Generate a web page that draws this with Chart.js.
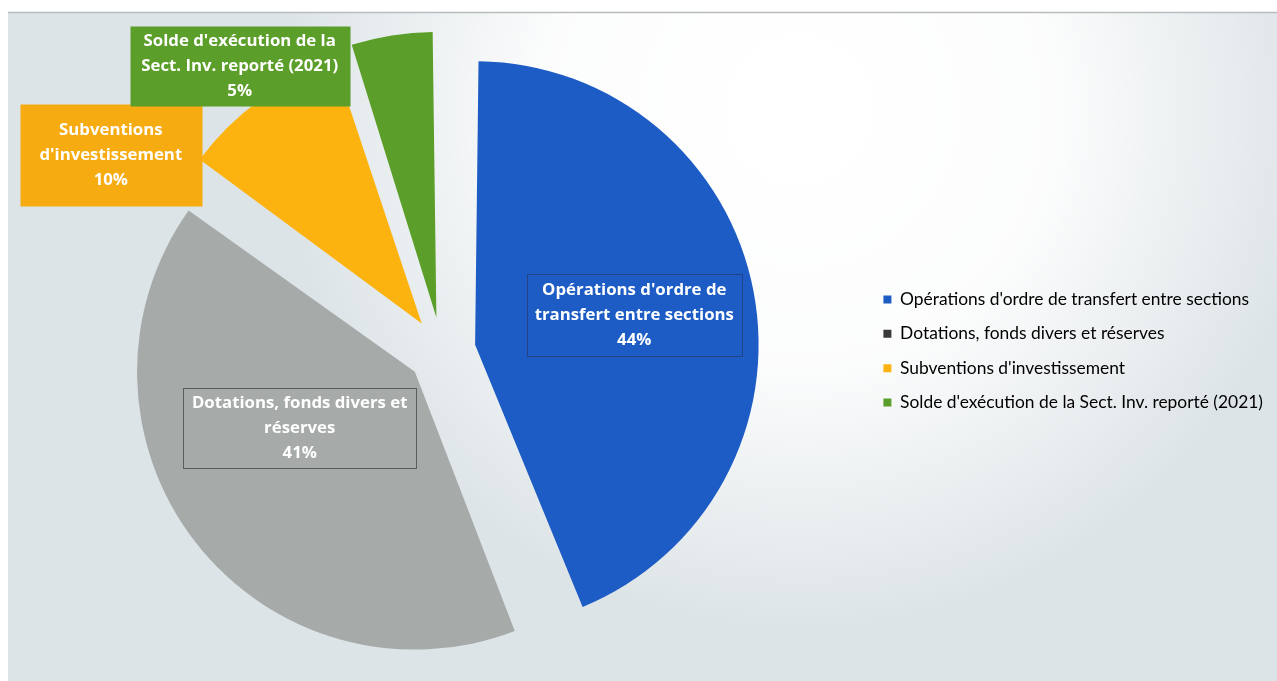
<!DOCTYPE html>
<html lang="fr">
<head>
<meta charset="utf-8">
<title>Recettes d'investissement</title>
<script src="https://cdn.jsdelivr.net/npm/chart.js@4.4.1/dist/chart.umd.min.js"></script>
<style>
  html, body { margin: 0; padding: 0; background: #ffffff; }
  #zone { width: 1277px; height: 681px; position: relative; }
</style>
</head>
<body>
<div id="zone"><canvas id="graphiqueInvest"></canvas></div>
<script>
// Données (en %)
const categories = [
  "Opérations d'ordre de transfert entre sections",
  "Dotations, fonds divers et réserves",
  "Subventions d'investissement",
  "Solde d'exécution de la Sect. Inv. reporté (2021)"
];
const valeurs = [44, 41, 10, 5];
const couleurs = ["#1c5cc4", "#a6aaa8", "#fdb30f", "#5b9e29"];
const couleursLegende = ["#1c5cc4", "#3a3a3a", "#fdb30f", "#5b9e29"];

// Boîtes d'étiquettes : position relative au centre (en fraction du rayon)
const boites = [
  { dx: 0.735, dy: -0.137, w: 215, h: 82, bord: "rgba(40,50,80,0.55)", fond: null },
  { dx: -0.542, dy: 0.294, w: 233, h: 80, bord: "rgba(60,60,60,0.7)", fond: null },
  { dx: -1.263, dy: -0.748, w: 182, h: 102, bord: null, fond: "#f6ab10" },
  { dx: -0.771, dy: -1.088, w: 220, h: 80, bord: null, fond: "#5b9e29" }
];

function decouperTexte(ctx, texte, largeurMax) {
  const mots = texte.split(" ");
  const lignes = [];
  let ligne = "";
  mots.forEach(m => {
    const essai = ligne ? ligne + " " + m : m;
    if (ctx.measureText(essai).width > largeurMax && ligne) {
      lignes.push(ligne);
      ligne = m;
    } else {
      ligne = essai;
    }
  });
  if (ligne) lignes.push(ligne);
  return lignes;
}

// Fond légèrement grisé comme le document scanné
const fondPlugin = {
  id: "fond",
  beforeDraw(chart) {
    const ctx = chart.ctx;
    ctx.save();
    ctx.fillStyle = "#ffffff";
    ctx.fillRect(0, 0, chart.width, chart.height);
    ctx.fillStyle = "#dde4e7";
    ctx.fillRect(8, 13, chart.width - 8, chart.height - 13);
    const g = ctx.createRadialGradient(800, 110, 40, 800, 110, 520);
    g.addColorStop(0, "rgba(255,255,255,1)");
    g.addColorStop(0.45, "rgba(255,255,255,0.9)");
    g.addColorStop(1, "rgba(255,255,255,0)");
    ctx.fillStyle = g;
    ctx.fillRect(8, 13, chart.width - 8, chart.height - 13);
    ctx.strokeStyle = "#b9bcbd";
    ctx.lineWidth = 1.5;
    ctx.beginPath();
    ctx.moveTo(8, 12.5);
    ctx.lineTo(chart.width, 12.5);
    ctx.stroke();
    ctx.restore();
  }
};

const etiquettesPlugin = {
  id: "etiquettes",
  afterDatasetsDraw(chart) {
    const ctx = chart.ctx;
    const meta = chart.getDatasetMeta(0);
    const total = valeurs.reduce((a, b) => a + b, 0);
    ctx.save();
    ctx.font = "bold 16.8px 'Open Sans', Lato, sans-serif";
    ctx.textAlign = "center";
    ctx.textBaseline = "middle";
    meta.data.forEach((arc, i) => {
      const b = boites[i];
      const r = arc.outerRadius;
      const cx = arc.x + b.dx * r;
      const cy = arc.y + b.dy * r;
      const x0 = Math.round(cx - b.w / 2) + 0.5;
      const y0 = Math.round(cy - b.h / 2) + 0.5;
      if (b.fond) {
        ctx.fillStyle = b.fond;
        ctx.fillRect(x0, y0, b.w, b.h);
      }
      if (b.bord) {
        ctx.strokeStyle = b.bord;
        ctx.lineWidth = 1;
        ctx.strokeRect(x0, y0, b.w, b.h);
      }
      const lignes = decouperTexte(ctx, categories[i], b.w - 2);
      lignes.push(Math.round(valeurs[i] / total * 100) + "%");
      const hl = 25;
      const yDeb = cy - (lignes.length - 1) * hl / 2;
      ctx.fillStyle = "#ffffff";
      lignes.forEach((l, k) => ctx.fillText(l, cx, yDeb + k * hl));
    });
    ctx.restore();
  }
};

const chart = new Chart(document.getElementById("graphiqueInvest"), {
  type: "pie",
  data: {
    labels: categories,
    datasets: [{
      data: valeurs,
      backgroundColor: couleurs,
      borderWidth: 0,
      offset: 136
    }]
  },
  options: {
    responsive: true,
    maintainAspectRatio: false,
    animation: false,
    radius: 262,
    layout: { padding: { left: 17, right: 4, top: 53, bottom: 32 } },
    plugins: {
      tooltip: { enabled: false },
      legend: {
        position: "right",
        labels: {
          boxWidth: 8,
          boxHeight: 8,
          padding: 17,
          color: "#262626",
          font: { family: "Lato, 'Open Sans', sans-serif", size: 17.4 },
          generateLabels: (c) => categories.map((t, i) => ({
            text: t,
            fillStyle: couleursLegende[i],
            strokeStyle: couleursLegende[i],
            lineWidth: 0,
            index: i,
            hidden: false
          }))
        }
      }
    }
  },
  plugins: [fondPlugin, etiquettesPlugin]
});
</script>
</body>
</html>
